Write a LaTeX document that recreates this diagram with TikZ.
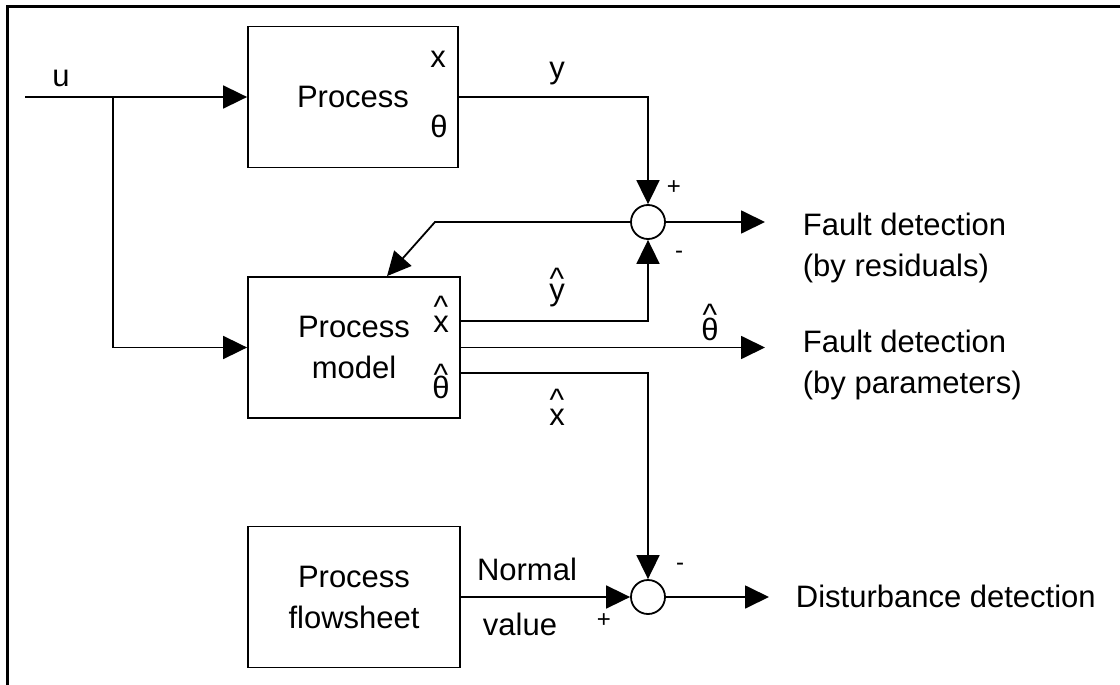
\documentclass[tikz,border=0pt]{standalone}
\usepackage{fontspec}
\setmainfont{Liberation Sans}
\usetikzlibrary{arrows.meta,calc}
\newcommand\caretover[2]{{\ooalign{#2\cr\hidewidth\raisebox{#1}{\textasciicircum}\hidewidth\cr}}}
\begin{document}
\begin{tikzpicture}[x=1pt,y=-1pt,line width=1.8pt,
  every node/.style={font=\fontsize{31}{41}\selectfont},
  blk/.style={draw, rectangle, minimum width=212pt, minimum height=141pt, inner sep=0pt, align=center},
  sumc/.style={draw, circle, minimum size=34pt, inner sep=0pt},
  lbl/.style={inner sep=0pt},
  sig/.style={inner sep=0pt, font=\fontsize{24}{24}\selectfont},
  arr/.style={-{Triangle[length=24pt,width=23pt]}}]
\useasboundingbox (0,0) rectangle (1120,685);
\draw[line width=3pt] (7,685) -- (7,7) -- (1120,7);

% blocks
\node[blk, minimum width=210pt] (P) at (353,97) {Process};
\node[blk] (PM) at (354,347.5) {Process\\model};
\node[blk] (PF) at (354,597) {Process\\flowsheet};
\node[sumc] (S1) at (648,222) {};
\node[sumc] (S2) at (648,597) {};

% labels
\node[lbl, anchor=base] (lu) at (61,87) {u};
\node[lbl, anchor=base] (lx) at (438,67) {x};
\node[lbl, anchor=base] (lth) at (439,137) {θ};
\node[lbl, anchor=base] (ly) at (557,78) {y};
\node[lbl, anchor=base] (lyh) at (557,300) {\caretover{11pt}{y}};
\node[lbl, anchor=base] (lxh) at (441,332) {\caretover{15pt}{x}};
\node[lbl, anchor=base] (lthh) at (441,398) {\caretover{13pt}{θ}};
\node[lbl, anchor=base] (lthr) at (710,340) {\caretover{15pt}{θ}};
\node[lbl, anchor=base] (lxl) at (557,425) {\caretover{15pt}{x}};
\node[lbl, anchor=base] (lnorm) at (527,580) {Normal};
\node[lbl, anchor=base] (lval) at (520,635) {value};
\node[sig] (sp1) at (674,188) {+};
\node[sig] (sm1) at (679,255) {-};
\node[sig] (sp2) at (604,621) {+};
\node[sig] (sm2) at (680,567) {-};
\node[lbl, anchor=north west, align=left] (fd1) at (802,212) {Fault detection\\(by residuals)};
\node[lbl, anchor=north west, align=left] (fd2) at (802,329) {Fault detection\\(by parameters)};
\node[lbl, anchor=base west] (dd) at (795,607) {Disturbance detection};

% connectors
\coordinate (uin) at (25,97);
\coordinate (br) at (113,97);
\draw[arr] (uin) -- (P.west);
\draw[arr] (br) |- (PM.west);
\draw[arr] (P.east) -| (S1.north);
\coordinate (o1) at (765,222);
\draw[arr] (S1.east) -- (o1);
\coordinate (kink) at (435,222);
\draw[arr] (S1.west) -- (kink) -- ($(PM.north)+(33,0)$);
\draw[arr] ($(PM.east)+(0,-26.5)$) -| (S1.south);
\coordinate (o2) at (765,347.5);
\draw[arr] (PM.east) -- (o2);
\draw[arr] ($(PM.east)+(0,25.5)$) -| (S2.north);
\draw[arr] (PF.east) -- (S2.west);
\coordinate (o3) at (769,597);
\draw[arr] (S2.east) -- (o3);
\end{tikzpicture}
\end{document}
